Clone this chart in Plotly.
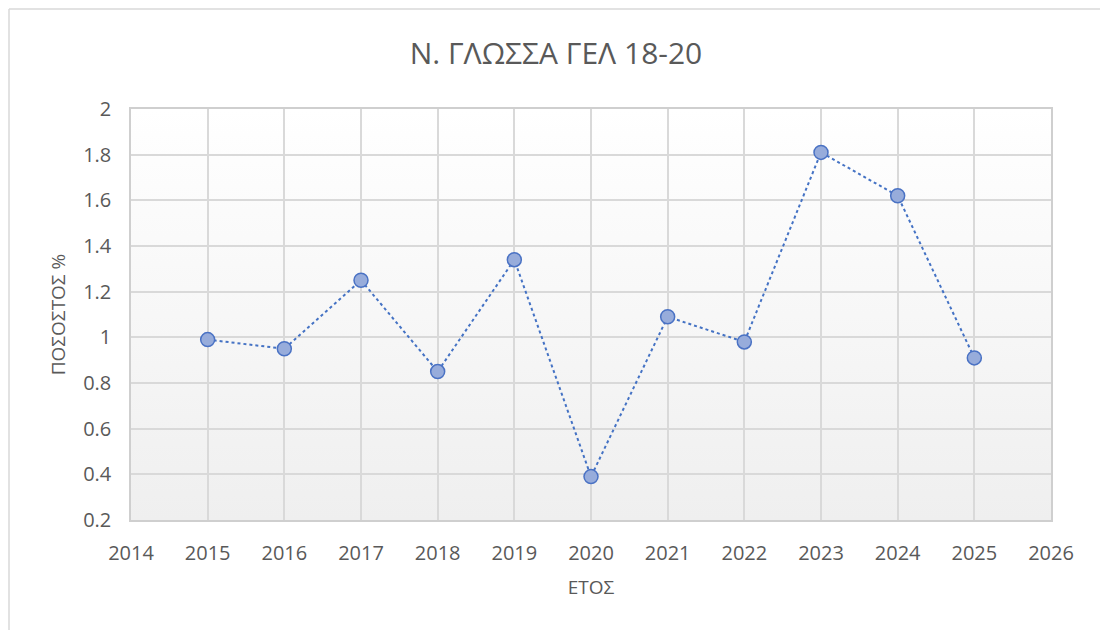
import base64
import plotly.graph_objects as go

# ---- data ----
years = [2015, 2016, 2017, 2018, 2019, 2020, 2021, 2022, 2023, 2024, 2025]
percent = [0.99, 0.95, 1.25, 0.85, 1.34, 0.39, 1.09, 0.98, 1.81, 1.62, 0.91]
x_tick_vals = list(range(2014, 2027))
y_tick_vals = [0.2, 0.4, 0.6, 0.8, 1.0, 1.2, 1.4, 1.6, 1.8, 2.0]
y_tick_text = ["0.2", "0.4", "0.6", "0.8", "1", "1.2", "1.4", "1.6", "1.8", "2"]
title_text = "Ν. ΓΛΩΣΣΑ ΓΕΛ 18-20"
x_title = "ΕΤΟΣ"
y_title = "ΠΟΣΟΣΤΟΣ %"

FONT = "Open Sans"
TXT = "#595959"
GRID = "#d9d9d9"

# subtle vertical gradient for the plot background (svg data uri)
svg = ('<svg xmlns="http://www.w3.org/2000/svg" width="100" height="100" preserveAspectRatio="none">'
       '<defs><linearGradient id="g" x1="0" y1="0" x2="0" y2="1">'
       '<stop offset="0" stop-color="#ffffff"/><stop offset="1" stop-color="#efefef"/>'
       '</linearGradient></defs><rect width="100" height="100" fill="url(#g)"/></svg>')
svg_uri = "data:image/svg+xml;base64," + base64.b64encode(svg.encode()).decode()

fig = go.Figure()
fig.add_trace(go.Scatter(
    x=years, y=percent, mode="lines+markers",
    line=dict(color="#4472c4", width=2, dash="dot"),
    marker=dict(size=14, color="#97acdb", line=dict(color="#4a72c4", width=1.5)),
    hoverinfo="x+y", showlegend=False,
))

W, H = 1100, 630
L, T = 131, 109
R = W - 1051
B = H - 520
pw, ph = W - L - R, H - T - B

bx0 = (9 - L) / pw
bx1 = (W + 20 - L) / pw
by0 = -(H + 20 - (T + ph)) / ph
by1 = (T + ph - 9) / ph
border = dict(color="#d9d9d9", width=1.5)

fig.update_layout(
    width=W, height=H,
    margin=dict(l=L, r=R, t=T, b=B),
    paper_bgcolor="white",
    plot_bgcolor="rgba(0,0,0,0)",
    font=dict(family=FONT, color=TXT),
    title=dict(text=title_text, x=556 / W, xanchor="center", y=1 - 53 / H,
               yanchor="middle", font=dict(size=30, color=TXT, family=FONT)),
    images=[dict(source=svg_uri, xref="paper", yref="paper", x=0, y=1, sizex=1, sizey=1,
                 sizing="stretch", layer="below", xanchor="left", yanchor="top")],
    shapes=[
        dict(type="line", xref="paper", yref="paper", x0=bx0, x1=bx1, y0=by1, y1=by1, line=border),
        dict(type="line", xref="paper", yref="paper", x0=bx0, x1=bx0, y0=by0, y1=by1, line=border),
    ],
)

fig.update_xaxes(
    range=[x_tick_vals[0], x_tick_vals[-1]], tickmode="array", tickvals=x_tick_vals,
    ticktext=[str(v) for v in x_tick_vals], showgrid=True, gridcolor=GRID, gridwidth=1.5,
    showline=True, linecolor="#cfcfcf", linewidth=1.5, mirror=True, zeroline=False,
    ticks="", ticklabelstandoff=14, tickfont=dict(size=20, color=TXT, family=FONT),
    title=dict(text=x_title, font=dict(size=19, color=TXT, family=FONT), standoff=16),
)
fig.update_yaxes(
    range=[y_tick_vals[0], y_tick_vals[-1]], tickmode="array", tickvals=y_tick_vals,
    ticktext=y_tick_text, showgrid=True, gridcolor=GRID, gridwidth=1.5,
    showline=True, linecolor="#cfcfcf", linewidth=1.5, mirror=True, zeroline=False,
    ticks="", ticklabelstandoff=14, tickfont=dict(size=20, color=TXT, family=FONT),
    title=dict(text=y_title, font=dict(size=19, color=TXT, family=FONT), standoff=12),
)

fig.write_html(
    "out.html",
    config={"displayModeBar": False},
    post_script="document.body.style.margin='0';document.documentElement.style.overflow='hidden';",
)
